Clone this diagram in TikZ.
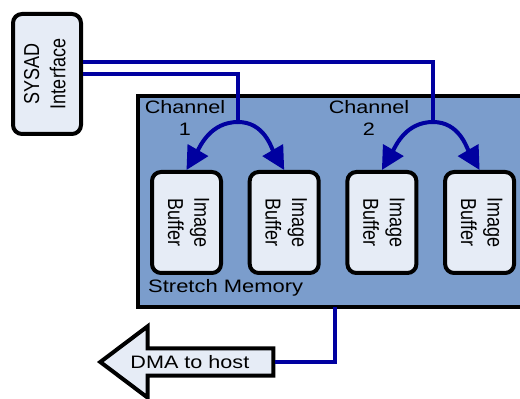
\documentclass[tikz,border=0pt]{standalone}
\usepackage{fontspec}
\setmainfont{Liberation Sans}
\usepackage{graphicx}
\usetikzlibrary{positioning,shapes.arrows,arrows.meta}

\definecolor{busblue}{RGB}{0,0,160}
\definecolor{boxfill}{RGB}{230,236,246}
\definecolor{memfill}{RGB}{123,157,204}

\newcommand{\htxt}[1]{\scalebox{1.2}[1]{\begin{tabular}{@{}c@{}}#1\end{tabular}}}
\newcommand{\vtxt}[2]{\rotatebox{#1}{\scalebox{1}[1.2]{\begin{tabular}{@{}c@{}}#2\end{tabular}}}}

\tikzset{
	box/.style={draw, line width=4pt, fill=boxfill, rounded corners=9pt, inner sep=0pt},
	buffer/.style={box, minimum width=69pt, minimum height=101pt},
	memory/.style={draw, line width=4pt, fill=memfill, inner sep=0pt, outer sep=0pt},
	bus/.style={draw=busblue, line width=4pt},
	fan/.style={bus, -{Triangle[length=23pt,width=23pt]}},
	dma/.style={single arrow, shape border rotate=180, draw, line width=4pt, fill=boxfill,
		single arrow head extend=22pt, single arrow tip angle=74,
		minimum height=173pt, inner xsep=0pt, inner ysep=5pt},
}

\begin{document}
\begin{tikzpicture}[x=1pt, y=1pt, font=\fontsize{18}{22}\selectfont]
	\useasboundingbox (0,0) rectangle (520,399);
	
	\node[memory, anchor=south west, minimum width=392.5pt, minimum height=210.5pt] (mem) at (137.5,92) {};
	\node[anchor=base west, inner sep=0pt] (stretch) at (148,106) {\scalebox{1.22}[1]{Stretch Memory}};
	
	\node[box, minimum width=68pt, minimum height=120pt] (sysad) at (47,325) {\vtxt{90}{SYSAD\\Interface}};
	
	\node[buffer] (buf1) at (186.5,176.5) {\vtxt{-90}{Image\\Buffer}};
	\node[buffer, right=24.7pt of buf1] (buf2) {\vtxt{-90}{Image\\Buffer}};
	\node[buffer, right=24.7pt of buf2] (buf3) {\vtxt{-90}{Image\\Buffer}};
	\node[buffer, right=24.7pt of buf3] (buf4) {\vtxt{-90}{Image\\Buffer}};
	
	\node[anchor=north, inner sep=0pt] (ch1) at (185,300.9) {\htxt{Channel\\1}};
	\node[anchor=north, inner sep=0pt] (ch2) at (369,300.9) {\htxt{Channel\\2}};
	
	\coordinate (c1top) at (238,277);
	\coordinate (c2top) at (433,277);
	
	% buses from the interface
	\draw[bus] (sysad.east) -| (c1top);
	\draw[bus] ([yshift=12pt]sysad.east) -| (c2top);
	
	\draw[fan] (c1top) to[out=180,in=60] (buf1.north);
	\draw[fan] (c1top) to[out=0,in=120] (buf2.north);
	\draw[fan] (c2top) to[out=180,in=60] (buf3.north);
	\draw[fan] (c2top) to[out=0,in=120] (buf4.north);
	
	\node[dma, anchor=tip] (dma) at (97,37) {\hspace*{-12pt}\scalebox{1.2}[1]{DMA to host}};
	\draw[bus] (dma.tail) -| ([xshift=197.5pt]mem.south west);
\end{tikzpicture}
\end{document}
